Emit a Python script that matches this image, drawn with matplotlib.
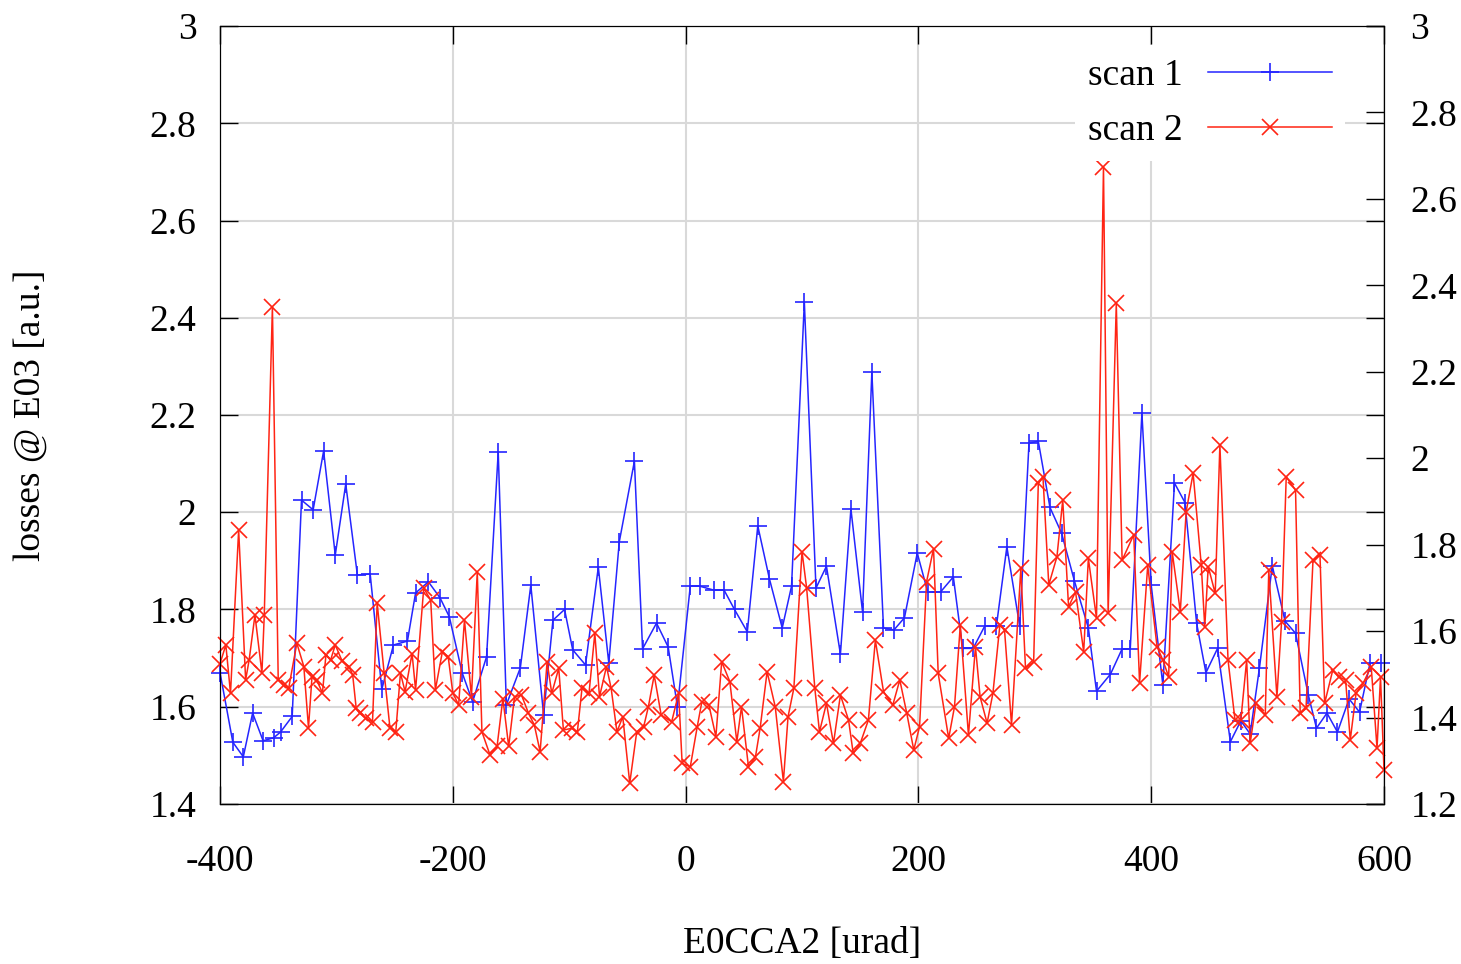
import matplotlib
matplotlib.use('Agg')
import matplotlib.pyplot as plt
from matplotlib.ticker import MultipleLocator, FuncFormatter

# scan 1 (left axis)
x1 = [-400, -389, -380, -372, -363, -354, -348, -338, -330, -320,
      -311, -301, -292, -282, -271, -261, -251, -239, -232, -221,
      -211, -203, -192, -183, -171, -161, -154, -142, -133, -122,
      -114, -104, -97, -86, -75, -66, -57, -44, -37, -25,
      -15, -7, 4, 12, 24, 33, 42, 53, 62, 72,
      83, 91, 102, 112, 121, 133, 142, 152, 160, 170,
      179, 188, 199, 208, 219, 230, 238, 247, 257, 267,
      276, 287, 295, 303, 313, 323, 334, 346, 353, 365,
      375, 382, 392, 400, 410, 420, 429, 439, 447, 457,
      468, 477, 485, 493, 504, 515, 524, 535, 542, 551,
      560, 570, 579, 588, 597]
y1 = [1.67, 1.527, 1.497, 1.587, 1.53, 1.536, 1.548, 1.58, 2.025, 2.005,
      2.126, 1.912, 2.058, 1.871, 1.873, 1.636, 1.727, 1.735, 1.834, 1.857,
      1.824, 1.785, 1.67, 1.61, 1.703, 2.124, 1.604, 1.68, 1.85, 1.583,
      1.778, 1.80, 1.717, 1.686, 1.887, 1.69, 1.939, 2.105, 1.719, 1.772,
      1.723, 1.60, 1.848, 1.848, 1.84, 1.84, 1.80, 1.754, 1.972, 1.863,
      1.762, 1.848, 2.432, 1.844, 1.889, 1.708, 2.007, 1.795, 2.288, 1.762,
      1.758, 1.783, 1.916, 1.836, 1.836, 1.867, 1.72, 1.72, 1.766, 1.766,
      1.929, 1.766, 2.142, 2.146, 2.01, 1.957, 1.859, 1.762, 1.632, 1.667,
      1.719, 1.719, 2.204, 1.85, 1.645, 2.06, 2.02, 1.772, 1.67, 1.72,
      1.528, 1.571, 1.544, 1.68, 1.89, 1.776, 1.751, 1.624, 1.556, 1.587,
      1.548, 1.616, 1.589, 1.69, 1.69]

# scan 2 (right axis)
x2 = [-400, -395, -391, -384, -378, -375, -370, -364, -362, -355,
      -350, -345, -341, -334, -328, -324, -321, -317, -312, -309,
      -305, -301, -295, -289, -286, -283, -280, -275, -269, -265,
      -259, -254, -249, -245, -241, -235, -232, -225, -219, -215,
      -209, -204, -200, -195, -190, -184, -179, -175, -168, -162,
      -157, -152, -147, -141, -135, -130, -125, -119, -115, -109,
      -105, -98, -93, -89, -83, -78, -74, -68, -64, -59,
      -54, -48, -42, -36, -32, -27, -21, -12, -6, -3,
      4, 10, 14, 20, 26, 31, 38, 44, 48, 54,
      60, 64, 70, 77, 84, 88, 93, 100, 104, 111,
      115, 121, 127, 133, 140, 144, 150, 157, 163, 170,
      178, 184, 190, 196, 201, 207, 213, 217, 226, 231,
      236, 243, 249, 253, 259, 264, 270, 274, 280, 288,
      292, 299, 303, 307, 312, 319, 324, 329, 335, 342,
      346, 353, 359, 363, 370, 375, 385, 390, 397, 405,
      410, 415, 418, 425, 430, 436, 443, 446, 449, 455,
      459, 466, 472, 477, 482, 485, 490, 498, 501, 508,
      512, 516, 524, 528, 533, 539, 545, 549, 556, 561,
      567, 571, 576, 582, 589, 594, 597, 600]
y2 = [1.525, 1.568, 1.456, 1.834, 1.487, 1.533, 1.637, 1.503, 1.637, 2.350,
      1.487, 1.475, 1.468, 1.572, 1.518, 1.376, 1.494, 1.487, 1.457, 1.545,
      1.533, 1.568, 1.530, 1.518, 1.498, 1.421, 1.410, 1.399, 1.390, 1.665,
      1.503, 1.376, 1.367, 1.503, 1.460, 1.548, 1.464, 1.699, 1.672, 1.464,
      1.552, 1.541, 1.457, 1.429, 1.626, 1.448, 1.737, 1.367, 1.313, 1.333,
      1.444, 1.333, 1.448, 1.452, 1.410, 1.383, 1.321, 1.529, 1.456, 1.514,
      1.371, 1.375, 1.367, 1.468, 1.456, 1.595, 1.448, 1.518, 1.468, 1.367,
      1.402, 1.248, 1.367, 1.379, 1.425, 1.498, 1.406, 1.390, 1.456, 1.294,
      1.286, 1.379, 1.437, 1.429, 1.356, 1.529, 1.483, 1.344, 1.425, 1.286,
      1.309, 1.375, 1.506, 1.425, 1.252, 1.402, 1.468, 1.784, 1.699, 1.468,
      1.367, 1.433, 1.340, 1.452, 1.394, 1.317, 1.340, 1.394, 1.579, 1.460,
      1.429, 1.487, 1.410, 1.325, 1.379, 1.714, 1.791, 1.502, 1.352, 1.425,
      1.614, 1.359, 1.564, 1.448, 1.387, 1.456, 1.614, 1.602, 1.383, 1.745,
      1.514, 1.529, 1.942, 1.957, 1.707, 1.772, 1.903, 1.656, 1.691, 1.552,
      1.768, 1.630, 2.674, 1.641, 2.358, 1.764, 1.823, 1.480, 1.752, 1.564,
      1.533, 1.494, 1.784, 1.645, 1.876, 1.965, 1.753, 1.610, 1.749, 1.687,
      2.031, 1.533, 1.394, 1.394, 1.533, 1.340, 1.433, 1.406, 1.741, 1.448,
      1.622, 1.957, 1.926, 1.410, 1.421, 1.764, 1.776, 1.433, 1.510, 1.494,
      1.487, 1.348, 1.456, 1.479, 1.518, 1.329, 1.494, 1.279]

labels = ['scan 1', 'scan 2']

plt.rcParams['font.family'] = ['Liberation Serif', 'DejaVu Serif']
plt.rcParams['font.size'] = 27

fig = plt.figure(figsize=(14.61, 9.64), dpi=100)
ax = fig.add_axes([0.1506, 0.166, 0.7967, 0.807])
ax2 = ax.twinx()

l1, = ax.plot(x1, y1, color='#2525ff', lw=1.1, marker='+', ms=13, mew=1.2, clip_on=False)
l2, = ax2.plot(x2, y2, color='#ff2414', lw=1.1, marker='x', ms=11.5, mew=1.2, clip_on=False)

ax.set_xlim(-400, 600)
ax.set_ylim(1.4, 3)
ax2.set_ylim(1.2, 3)

# gnuplot style number labels (no trailing zeros)
fmt = FuncFormatter(lambda v, p: '%g' % round(v, 3))
ax.xaxis.set_major_locator(MultipleLocator(200))
ax.yaxis.set_major_locator(MultipleLocator(0.2))
ax2.yaxis.set_major_locator(MultipleLocator(0.2))
ax.xaxis.set_major_formatter(fmt)
ax.yaxis.set_major_formatter(fmt)
ax2.yaxis.set_major_formatter(fmt)

ax.grid(True, color='#d9d9d9', lw=1.5)
ax.set_axisbelow(True)
ax.tick_params(direction='in', length=13, width=1, top=True, right=True, labelright=False)
ax.tick_params(axis='x', pad=29)
ax.tick_params(axis='y', pad=17)
ax2.tick_params(direction='in', length=13, width=1, pad=19)

ax.set_xlabel('E0CCA2 [urad]')
ax.xaxis.set_label_coords(0.5, -0.18)
ax.xaxis.label.set_va('center')
ax.set_ylabel('losses @ E03 [a.u.]')
ax.yaxis.set_label_coords(-0.163, 0.5)
ax.yaxis.label.set_va('center')

ax2.legend([l1, l2], labels, loc='upper right', bbox_to_anchor=(0.9665, 0.9756),
           markerfirst=False, handlelength=3.3, handletextpad=0.67, labelspacing=0.55,
           borderpad=0.35, borderaxespad=0, fancybox=False, framealpha=1,
           edgecolor='none', facecolor='white')

fig.savefig('out.png', dpi=100)
